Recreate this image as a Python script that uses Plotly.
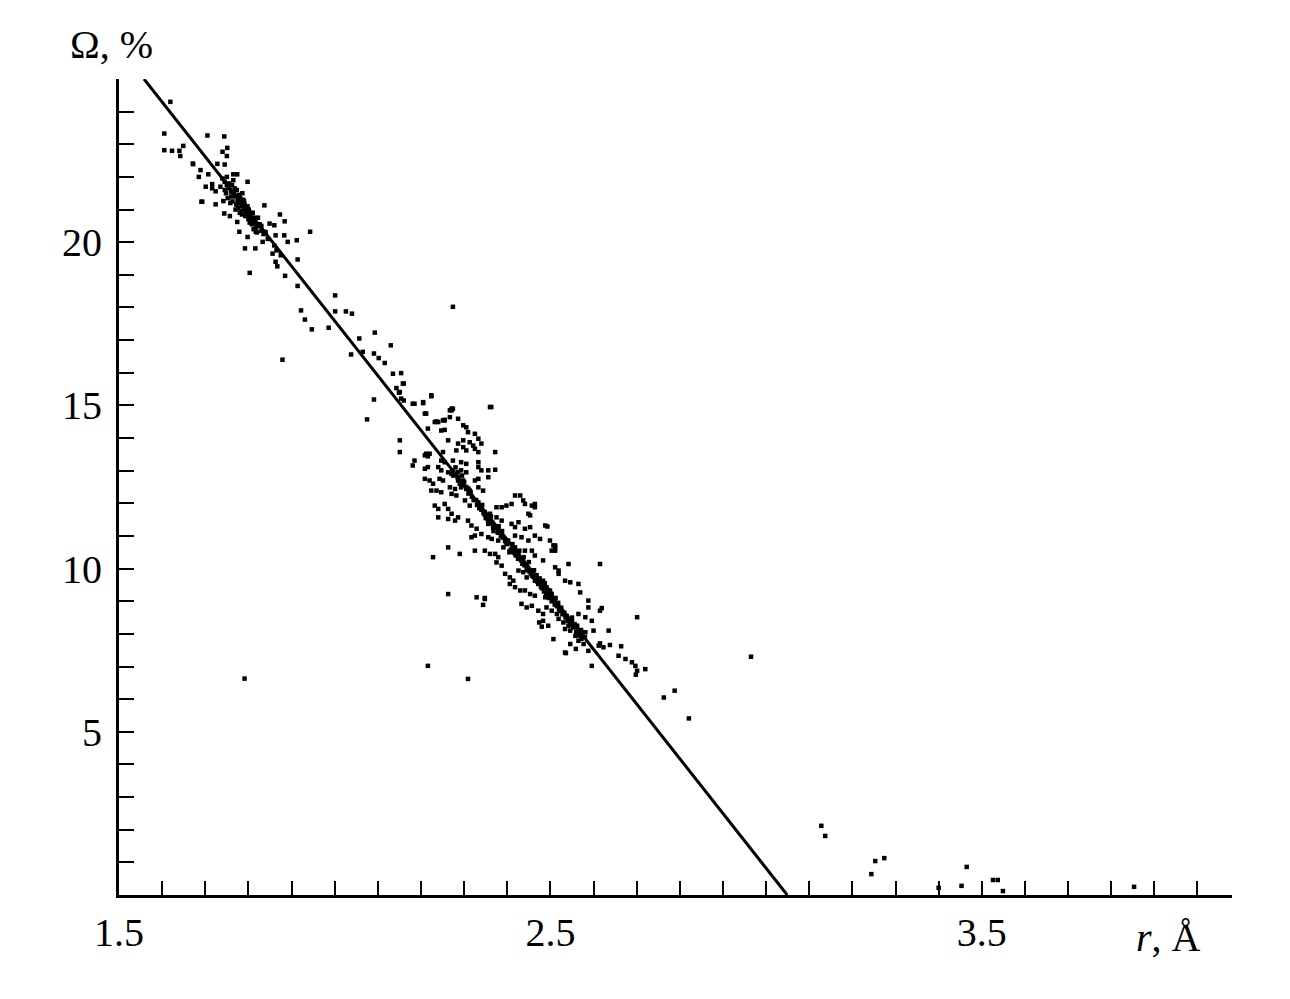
import plotly.graph_objects as go

# ---------------- data ----------------
x_label_ticks = [1.5, 2.5, 3.5]
y_label_ticks = [5, 10, 15, 20]
x_range = [1.5, 4.08]
y_range = [0, 25]

# fitted straight line  (r, Omega)
fit_r = [1.558, 3.049]
fit_omega = [25.0, 0.0]

# upper cluster (r, Omega %)
cluster_a = [
    (1.619, 24.30), (1.605, 23.33), (1.705, 23.27), (1.744, 23.24), (1.605, 22.82),
    (1.623, 22.80), (1.640, 22.80), (1.642, 22.64), (1.649, 22.95), (1.671, 22.41),
    (1.751, 22.89), (1.740, 22.77), (1.750, 22.64), (1.672, 22.39), (1.745, 22.38),
    (1.728, 22.40), (1.689, 22.21), (1.685, 22.00), (1.707, 22.08), (1.765, 22.08),
    (1.774, 22.08), (1.701, 21.70), (1.716, 21.78), (1.724, 21.56), (1.693, 21.24),
    (1.724, 21.16), (1.742, 21.26), (1.837, 21.13), (1.744, 20.88), (1.774, 20.62),
    (1.873, 20.85), (1.884, 20.64), (1.849, 20.57), (1.860, 20.52), (1.943, 20.32),
    (1.817, 20.32), (1.837, 20.32), (1.779, 20.32), (1.798, 21.85), (1.716, 21.65),
    (1.691, 21.24), (1.757, 20.80), (1.883, 20.21), (1.863, 20.21), (1.798, 20.16),
    (1.833, 20.01), (1.792, 19.81), (1.816, 19.81), (1.891, 20.01), (1.912, 20.06),
    (1.856, 19.65), (1.863, 19.40), (1.867, 19.26), (1.914, 19.47), (1.803, 19.06),
    (1.885, 18.97), (1.914, 18.66), (2.001, 18.37),
]
cluster_a_core = [
    (1.740, 21.95), (1.745, 21.85), (1.750, 21.75), (1.755, 21.65), (1.760, 21.55),
    (1.765, 21.45), (1.770, 21.40), (1.775, 21.30), (1.780, 21.20), (1.785, 21.10),
    (1.790, 21.00), (1.795, 20.95), (1.800, 20.85), (1.805, 20.75), (1.810, 20.65),
    (1.815, 20.60), (1.820, 20.50), (1.830, 20.35), (1.835, 20.25), (1.845, 20.10),
    (1.745, 21.60), (1.755, 21.80), (1.760, 21.40), (1.768, 21.65), (1.772, 21.15),
    (1.778, 21.45), (1.783, 20.95), (1.788, 21.30), (1.793, 20.80), (1.798, 21.10),
    (1.803, 20.60), (1.810, 20.90), (1.818, 20.45), (1.822, 20.75), (1.750, 22.00),
    (1.735, 21.70), (1.765, 21.90), (1.790, 21.25), (1.800, 20.70), (1.770, 21.00),
    (1.785, 20.85), (1.812, 20.40), (1.830, 20.50), (1.840, 20.30), (1.860, 19.90),
    (1.865, 19.75), (1.875, 19.60), (1.748, 21.50), (1.752, 21.35), (1.758, 21.20),
    (1.762, 21.75), (1.767, 21.55), (1.773, 21.60), (1.776, 21.05), (1.781, 21.35),
    (1.786, 21.50), (1.791, 21.15), (1.796, 20.90), (1.801, 21.00), (1.806, 20.90),
    (1.808, 20.55), (1.814, 20.75), (1.820, 20.30), (1.826, 20.55), (1.780, 20.90),
    (1.775, 21.20), (1.763, 21.25),
]
# sparse points between the clusters
between = [
    (1.922, 17.91), (1.931, 17.63), (1.947, 17.33), (1.986, 17.38), (2.001, 17.88),
    (2.026, 17.88), (2.040, 17.81), (1.879, 16.40), (2.057, 17.05), (2.093, 17.23),
    (2.038, 16.56), (2.065, 16.64), (2.091, 16.59), (2.102, 16.45), (2.116, 16.30),
    (2.130, 16.84), (2.135, 15.97), (2.154, 15.99), (2.160, 15.67), (2.143, 15.53),
    (2.149, 15.39), (2.091, 15.18), (2.075, 14.57), (2.160, 15.15), (2.181, 15.05),
    (2.205, 15.07), (2.224, 15.28), (2.212, 14.75), (2.236, 14.51), (2.255, 14.56),
    (2.271, 14.85), (2.274, 18.02),
]
# lower cluster
cluster_b = [
    (2.158, 15.67), (2.224, 15.31), (2.185, 15.05), (2.205, 15.10), (2.151, 15.41),
    (2.154, 15.21), (2.209, 14.75), (2.267, 14.85), (2.274, 14.90), (2.363, 14.95),
    (2.240, 14.49), (2.255, 14.54), (2.286, 14.59), (2.298, 14.39), (2.309, 14.18),
    (2.305, 14.33), (2.325, 14.13), (2.333, 13.98), (2.247, 14.23), (2.255, 14.25),
    (2.216, 14.29), (2.151, 13.93), (2.263, 13.93), (2.286, 13.83), (2.298, 13.93),
    (2.313, 13.87), (2.321, 13.77), (2.340, 13.83), (2.282, 13.62), (2.298, 13.72),
    (2.305, 13.62), (2.325, 13.67), (2.333, 13.57), (2.372, 13.57), (2.151, 13.57),
    (2.209, 13.47), (2.216, 13.44), (2.251, 13.57), (2.185, 13.31), (2.181, 13.16),
    (2.247, 13.31), (2.255, 13.26), (2.274, 13.31), (2.293, 13.26), (2.305, 13.21),
    (2.333, 13.26), (2.209, 13.06), (2.216, 13.11), (2.240, 13.11), (2.247, 13.01),
    (2.263, 12.95), (2.271, 12.90), (2.293, 13.01), (2.305, 12.95), (2.333, 13.11),
    (2.340, 13.01), (2.356, 13.01), (2.372, 13.03), (2.209, 12.75), (2.220, 12.70),
    (2.243, 12.75), (2.251, 12.70), (2.286, 12.70), (2.298, 12.70), (2.325, 12.70),
    (2.333, 12.75), (2.356, 12.80), (2.224, 12.39), (2.236, 12.39), (2.247, 12.34),
    (2.267, 12.49), (2.279, 12.44), (2.293, 12.49), (2.305, 12.44), (2.313, 12.39),
    (2.333, 12.49), (2.344, 12.39), (2.271, 12.29), (2.282, 12.24), (2.232, 11.93),
    (2.240, 11.83), (2.255, 11.98), (2.263, 11.83), (2.271, 11.68), (2.286, 11.57),
    (2.302, 12.09), (2.313, 11.93), (2.333, 12.03), (2.340, 11.88), (2.348, 11.73),
    (2.360, 11.68), (2.375, 11.88), (2.387, 11.88), (2.398, 11.93), (2.410, 11.98),
    (2.418, 12.24), (2.430, 12.24), (2.437, 12.09), (2.457, 11.93), (2.464, 11.88),
    (2.240, 11.57), (2.263, 11.52), (2.279, 11.47), (2.309, 11.47), (2.317, 11.32),
    (2.329, 11.22), (2.356, 11.37), (2.367, 11.27), (2.379, 11.17), (2.410, 11.37),
    (2.418, 11.27), (2.426, 11.42), (2.441, 11.22), (2.453, 11.27), (2.488, 11.32),
    (2.375, 11.57), (2.387, 11.47), (2.317, 10.96), (2.325, 11.01), (2.340, 11.06),
    (2.356, 10.96), (2.364, 10.91), (2.379, 10.86), (2.391, 10.96), (2.402, 10.86),
    (2.418, 11.01), (2.433, 10.96), (2.449, 10.86), (2.464, 11.01), (2.476, 10.91),
    (2.499, 10.86), (2.507, 10.71), (2.325, 10.55), (2.348, 10.55), (2.360, 10.45),
    (2.372, 10.45), (2.379, 10.35), (2.391, 10.65), (2.406, 10.55), (2.418, 10.65),
    (2.426, 10.45), (2.441, 10.55), (2.457, 10.55), (2.464, 10.40), (2.483, 10.25),
    (2.503, 10.55), (2.511, 10.65), (2.263, 10.65), (2.290, 10.45), (2.228, 10.35),
    (2.542, 10.14), (2.615, 10.14), (2.375, 10.19), (2.387, 10.09), (2.395, 9.84),
    (2.406, 9.73), (2.414, 9.63), (2.426, 9.94), (2.437, 9.89), (2.445, 9.73),
    (2.457, 9.79), (2.464, 9.63), (2.472, 9.53), (2.483, 9.63), (2.491, 9.43),
    (2.499, 9.33), (2.519, 9.84), (2.534, 9.63), (2.546, 9.58), (2.511, 10.04),
    (2.519, 9.94), (2.406, 9.53), (2.418, 9.43), (2.430, 9.33), (2.441, 9.33),
    (2.453, 9.22), (2.464, 9.17), (2.488, 9.12), (2.503, 9.22), (2.565, 9.53),
    (2.569, 9.27), (2.588, 9.02), (2.263, 9.22), (2.329, 9.12), (2.348, 9.07),
    (2.433, 8.92), (2.445, 8.81), (2.457, 8.86), (2.472, 8.71), (2.483, 8.61),
    (2.491, 8.81), (2.503, 8.71), (2.515, 8.61), (2.519, 8.46), (2.530, 8.35),
    (2.542, 8.25), (2.550, 8.40), (2.558, 8.20), (2.483, 8.40), (2.495, 8.25),
    (2.565, 8.61), (2.581, 8.51), (2.588, 8.81), (2.534, 8.15), (2.546, 8.10),
    (2.701, 8.51), (2.615, 8.71), (2.635, 8.10), (2.507, 7.84), (2.546, 7.69),
    (2.534, 7.43), (2.565, 7.79), (2.577, 7.69), (2.588, 7.48), (2.612, 7.64),
    (2.623, 7.59), (2.658, 7.33), (2.674, 7.23), (2.689, 7.13), (2.697, 7.02),
    (2.701, 6.87), (2.720, 6.92), (2.216, 7.02), (2.309, 6.62), (2.596, 7.02),
    (2.348, 9.10), (2.344, 8.89), (2.536, 7.41), (2.559, 7.54), (2.615, 7.71),
    (2.638, 7.66), (2.664, 7.62), (2.698, 6.75), (2.474, 8.35), (2.480, 8.22),
    (2.558, 7.94), (2.571, 8.12), (2.581, 8.05), (2.596, 8.40), (2.600, 8.10),
    (2.619, 8.79), (2.493, 11.29), (2.511, 10.71), (2.511, 10.55), (2.464, 11.98),
    (2.449, 11.68), (2.453, 11.63), (2.441, 11.98), (2.232, 14.49), (2.251, 14.54),
    (2.271, 14.90), (2.267, 14.64), (2.360, 14.95), (2.212, 13.52), (2.220, 13.52),
    (2.228, 12.60),
]
cluster_b_core = [
    (2.273, 13.00), (2.285, 12.80), (2.298, 12.55), (2.310, 12.30), (2.322, 12.10),
    (2.335, 11.85), (2.348, 11.65), (2.360, 11.45), (2.372, 11.25), (2.385, 11.00),
    (2.397, 10.80), (2.410, 10.60), (2.420, 10.40), (2.435, 10.15), (2.447, 9.95),
    (2.460, 9.75), (2.472, 9.55), (2.485, 9.30), (2.497, 9.10), (2.510, 8.90),
    (2.523, 8.70), (2.535, 8.50), (2.548, 8.30), (2.560, 8.05), (2.572, 7.85),
    (2.280, 13.10), (2.290, 12.60), (2.305, 12.50), (2.315, 12.35), (2.330, 11.95),
    (2.340, 11.80), (2.355, 11.50), (2.365, 11.40), (2.378, 11.10), (2.390, 10.95),
    (2.400, 10.75), (2.415, 10.50), (2.425, 10.30), (2.440, 10.10), (2.452, 9.90),
    (2.465, 9.65), (2.478, 9.45), (2.490, 9.25), (2.503, 9.00), (2.515, 8.85),
    (2.528, 8.60), (2.540, 8.40), (2.553, 8.20), (2.565, 8.00), (2.275, 12.85),
    (2.300, 12.65), (2.318, 12.20), (2.345, 11.70), (2.370, 11.30), (2.395, 10.85),
    (2.418, 10.45), (2.445, 10.00), (2.470, 9.60), (2.495, 9.15), (2.520, 8.75),
    (2.545, 8.35), (2.568, 7.95), (2.405, 10.50), (2.412, 10.75), (2.428, 10.55),
    (2.432, 10.25), (2.438, 10.35), (2.450, 10.20), (2.455, 9.85), (2.462, 9.95),
    (2.468, 9.80), (2.475, 9.70), (2.480, 9.40), (2.487, 9.55), (2.493, 9.35),
    (2.500, 9.25), (2.507, 9.05), (2.512, 9.10), (2.518, 8.95), (2.525, 8.80),
    (2.532, 8.65), (2.538, 8.55), (2.550, 8.50), (2.556, 8.30), (2.562, 8.25),
    (2.575, 8.05), (2.580, 7.90), (2.350, 11.55), (2.362, 11.60), (2.368, 11.15),
    (2.380, 11.30), (2.388, 11.15), (2.342, 11.95), (2.328, 12.10), (2.310, 12.45),
    (2.295, 12.85), (2.285, 12.95),
]
# isolated points (far from the clusters)
isolated = [
    (1.791, 6.63), (2.965, 7.30), (3.128, 2.12), (3.137, 1.81), (3.253, 1.04),
    (3.274, 1.13), (3.244, 0.64), (3.465, 0.86), (3.453, 0.28), (3.526, 0.46),
    (3.537, 0.46), (3.549, 0.12), (3.853, 0.25), (3.400, 0.22), (2.763, 6.05),
    (2.788, 6.26), (2.821, 5.41),
]

# ---------------- figure ----------------
all_points = cluster_a + cluster_a_core + between + cluster_b + cluster_b_core + isolated
pts_r = [p[0] for p in all_points]
pts_omega = [p[1] for p in all_points]

FONT = "Liberation Serif, 'Times New Roman', serif"

fig = go.Figure()
fig.add_trace(go.Scatter(
    x=pts_r, y=pts_omega, mode="markers",
    marker=dict(symbol="square", size=4.5, color="black", line=dict(width=0)),
    showlegend=False, hoverinfo="skip",
))
fig.add_trace(go.Scatter(
    x=fit_r, y=fit_omega, mode="lines",
    line=dict(color="black", width=3),
    showlegend=False, hoverinfo="skip",
))

x_tickvals = [round(x_range[0] + 0.1 * i, 1) for i in range(int(round((4.0 - x_range[0]) / 0.1)) + 1)]
x_ticktext = [(f"{v:.1f}" if v in x_label_ticks else "") for v in x_tickvals]
y_tickvals = list(range(1, 25))
y_ticktext = [(str(v) if v in y_label_ticks else "") for v in y_tickvals]

fig.update_xaxes(
    range=x_range, showline=True, linecolor="black", linewidth=3,
    showgrid=False, zeroline=False, mirror=False,
    ticks="inside", ticklen=14, tickwidth=2, tickcolor="black",
    tickmode="array", tickvals=x_tickvals, ticktext=x_ticktext,
    tickfont=dict(family=FONT, size=40, color="black"),
    ticklabelstandoff=0,
)
fig.update_yaxes(
    range=y_range, showline=True, linecolor="black", linewidth=3,
    showgrid=False, zeroline=False, mirror=False,
    ticks="inside", ticklen=15, tickwidth=2, tickcolor="black",
    tickmode="array", tickvals=y_tickvals, ticktext=y_ticktext,
    tickfont=dict(family=FONT, size=40, color="black"),
    ticklabelstandoff=6,
)

fig.update_layout(
    width=1290, height=999,
    margin=dict(l=111, r=66, t=71, b=112, pad=0),
    paper_bgcolor="white", plot_bgcolor="white",
    annotations=[
        dict(text="Ω, %", xref="paper", yref="paper", x=-0.007, y=1.042,
             xanchor="center", yanchor="middle", showarrow=False,
             font=dict(family=FONT, size=40, color="black")),
        dict(text="<i>r</i>, Å", xref="paper", yref="paper", x=0.943, y=-0.052,
             xanchor="center", yanchor="middle", showarrow=False,
             font=dict(family=FONT, size=40, color="black")),
    ],
)

fig.write_html("out.html")
